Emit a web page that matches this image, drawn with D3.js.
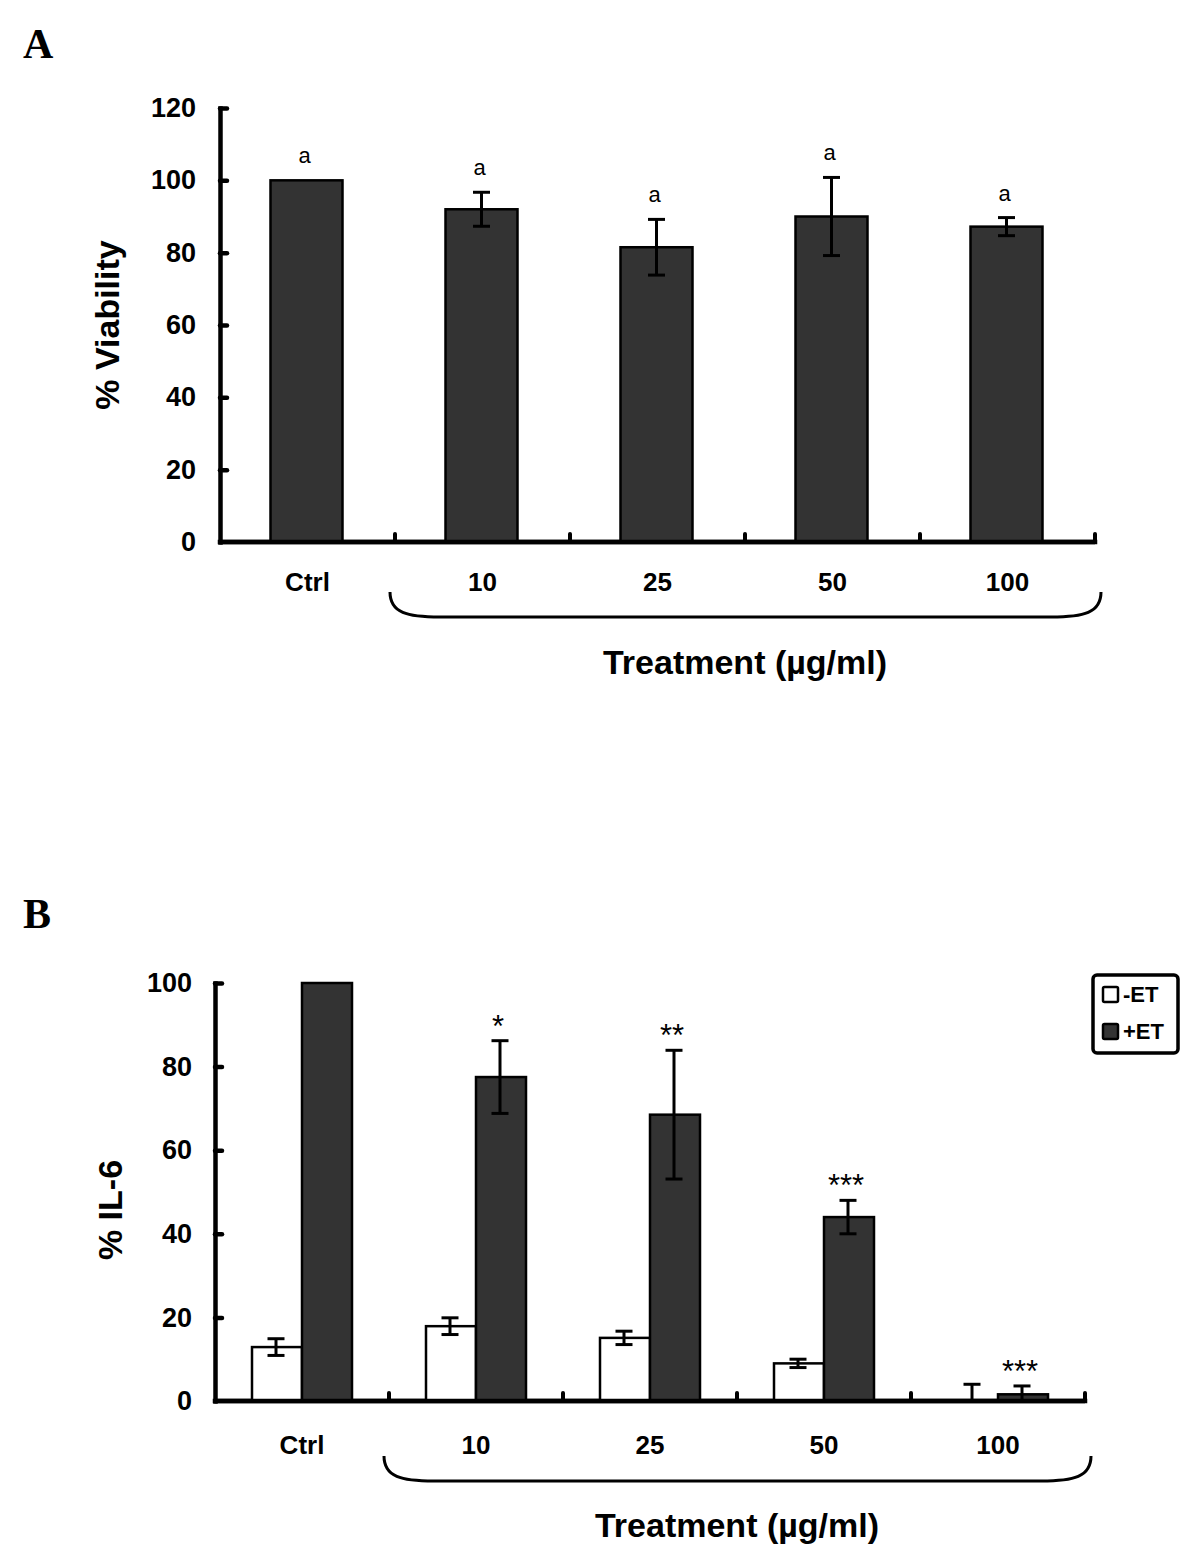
<!DOCTYPE html>
<html><head><meta charset="utf-8">
<script src="https://cdn.jsdelivr.net/npm/d3@7/dist/d3.min.js"></script>
<style>body{margin:0;background:#fff}svg{display:block}</style>
</head><body>
<script>
// ---- data ----
const categories = ["Ctrl","10","25","50","100"];
const viability = [100, 92.0, 81.5, 90.0, 87.2];
const viabilityErr = [0, 4.7, 7.7, 10.8, 2.5];
const viabilityLetters = ["a","a","a","a","a"];
const viabilityTicks = [0,20,40,60,80,100,120];

const seriesNames = ["-ET","+ET"];
const il6Minus = [12.9, 17.9, 15.1, 9.0, 0];
const il6MinusErr = [2.0, 2.0, 1.6, 1.0, 4.0];
const il6Plus = [100, 77.5, 68.5, 44.0, 1.6];
const il6PlusErr = [0, 8.7, 15.4, 4.0, 2.0];
const il6Stars = ["", "*", "**", "***", "***"];
const il6Ticks = [0,20,40,60,80,100];

const FONT = "'Liberation Sans', Arial, sans-serif";
const svg = d3.select("body").append("svg").attr("width",1200).attr("height",1568);
const BAR = "#333333";

function panel(opts){
  const g = svg.append("g");
  const {x, y, ticks, labelPad, title, titleY, axisTitle, axisTitleX, axisTitleY, letter, letterY} = opts;
  g.append("text").attr("x",23).attr("y",letterY).text(letter)
    .style("font-family","'Liberation Serif', 'Times New Roman', serif").style("font-weight","700").style("font-size","42px");
  const ya = g.append("g").attr("transform",`translate(${x.range()[0]},0)`)
    .call(d3.axisLeft(y).tickValues(ticks).tickSizeInner(-7).tickSizeOuter(0).tickPadding(labelPad));
  ya.select(".domain").attr("stroke","#000").attr("stroke-width",4.5).attr("stroke-linecap","square");
  ya.selectAll(".tick line").attr("stroke","#000").attr("stroke-width",4.5).attr("stroke-linecap","round")
    .attr("display",d=>d===0?"none":null);
  ya.selectAll(".tick text").style("font-family",FONT).style("font-weight","700").style("font-size","27px").attr("fill","#000");
  const y0 = y(0);
  g.append("line").attr("x1",x.range()[0]).attr("x2",x.range()[1]).attr("y1",y0).attr("y2",y0)
    .attr("stroke","#000").attr("stroke-width",4.5).attr("stroke-linecap","square");
  const bounds = categories.slice(1).map(c=>x(c)).concat([x.range()[1]]);
  g.selectAll(".xt").data(bounds).join("line").attr("x1",d=>d).attr("x2",d=>d)
    .attr("y1",y0).attr("y2",y0-8).attr("stroke","#000").attr("stroke-width",4).attr("stroke-linecap","round");
  const xa = g.append("g").attr("transform",`translate(0,${y0})`).call(d3.axisBottom(x).tickSize(0).tickPadding(opts.catPad));
  xa.select(".domain").remove();
  xa.selectAll(".tick text").style("font-family",FONT).style("font-weight","700").style("font-size","26px").attr("fill","#000");
  const bx0 = x(categories[1]) - 5, bx1 = x.range()[1] + 6;
  const bt = opts.braceTop, bb = opts.braceTop + 25, rx = 50;
  g.append("path").attr("d",`M${bx0},${bt} C${bx0},${bb-4} ${bx0+rx*0.35},${bb} ${bx0+rx},${bb} L${bx1-rx},${bb} C${bx1-rx*0.35},${bb} ${bx1},${bb-4} ${bx1},${bt}`)
    .attr("fill","none").attr("stroke","#000").attr("stroke-width",3);
  g.append("text").attr("x",(x(categories[1])+x.range()[1])/2).attr("y",titleY).attr("text-anchor","middle")
    .text(title).style("font-family",FONT).style("font-weight","700").style("font-size","34px");
  g.append("text").attr("transform",`translate(${axisTitleX},${axisTitleY}) rotate(-90)`).attr("text-anchor","middle")
    .text(axisTitle).style("font-family",FONT).style("font-weight","700").style("font-size","34px");
  return g;
}

function errBar(g, cx, y, v, e){
  if(!e) return;
  const lo = Math.max(0, v - e), hi = v + e;
  g.append("line").attr("x1",cx).attr("x2",cx).attr("y1",y(lo)).attr("y2",y(hi)).attr("stroke","#000").attr("stroke-width",3);
  g.append("line").attr("x1",cx-8.5).attr("x2",cx+8.5).attr("y1",y(hi)).attr("y2",y(hi)).attr("stroke","#000").attr("stroke-width",3);
  if(v - e >= 0) g.append("line").attr("x1",cx-8.5).attr("x2",cx+8.5).attr("y1",y(lo)).attr("y2",y(lo)).attr("stroke","#000").attr("stroke-width",3);
}

// ---- Panel A ----
const xA = d3.scaleBand().domain(categories).range([220,1095]);
const yA = d3.scaleLinear().domain([0,120]).range([542,108]);
const gA = panel({x:xA, y:yA, ticks:viabilityTicks, labelPad:24, title:"Treatment (\u00b5g/ml)", titleY:674,
  axisTitle:"% Viability", axisTitleX:119, axisTitleY:325, letter:"A", letterY:58, catPad:31, braceTop:592});
const bwA = 72;
categories.forEach((c,i)=>{
  const cx = xA(c) + xA.bandwidth()/2 - 1;
  gA.append("rect").attr("x",cx-bwA/2).attr("y",yA(viability[i])).attr("width",bwA).attr("height",yA(0)-yA(viability[i]))
    .attr("fill",BAR).attr("stroke","#000").attr("stroke-width",2.5);
  errBar(gA, cx, yA, viability[i], viabilityErr[i]);
  gA.append("text").attr("x",cx-2).attr("y",yA(viability[i]+viabilityErr[i])-17).attr("text-anchor","middle")
    .text(viabilityLetters[i]).style("font-family",FONT).style("font-size","22px");
});
gA.append("line").attr("x1",220).attr("x2",1095).attr("y1",yA(0)).attr("y2",yA(0)).attr("stroke","#000").attr("stroke-width",4.5);

// ---- Panel B ----
const xB = d3.scaleBand().domain(categories).range([215,1085]);
const yB = d3.scaleLinear().domain([0,100]).range([1401,983]);
const gB = panel({x:xB, y:yB, ticks:il6Ticks, labelPad:23, title:"Treatment (\u00b5g/ml)", titleY:1537,
  axisTitle:"% IL-6", axisTitleX:122, axisTitleY:1210, letter:"B", letterY:928, catPad:35, braceTop:1456});
const xSub = d3.scaleBand().domain(seriesNames).range([-50,50]);
const seriesVals = [il6Minus, il6Plus], seriesErr = [il6MinusErr, il6PlusErr], seriesFill = ["#fff", BAR];
categories.forEach((c,i)=>{
  const cc = xB(c) + xB.bandwidth()/2;
  seriesNames.forEach((s,k)=>{
    const v = seriesVals[k][i];
    const bx = cc + xSub(s);
    if(v>0) gB.append("rect").attr("x",bx).attr("y",yB(v)).attr("width",xSub.bandwidth()).attr("height",yB(0)-yB(v))
      .attr("fill",seriesFill[k]).attr("stroke","#000").attr("stroke-width",2.5);
    errBar(gB, bx + xSub.bandwidth()/2 - 1, yB, v, seriesErr[k][i]);
  });
  if(il6Stars[i]){
    const px = cc + xSub("+ET") + xSub.bandwidth()/2;
    gB.append("text").attr("x",px-3).attr("y",yB(il6Plus[i]+il6PlusErr[i])-4).attr("text-anchor","middle")
      .text(il6Stars[i]).style("font-family",FONT).style("font-size","31px");
  }
});
gB.append("line").attr("x1",215).attr("x2",1085).attr("y1",yB(0)).attr("y2",yB(0)).attr("stroke","#000").attr("stroke-width",4.5);

// legend
const lg = svg.append("g").attr("transform","translate(1093,975)");
lg.append("rect").attr("width",85).attr("height",78).attr("rx",4).attr("fill","#fff").attr("stroke","#000").attr("stroke-width",3.5);
seriesNames.forEach((s,k)=>{
  const yy = 12 + k*37;
  lg.append("rect").attr("x",10).attr("y",yy).attr("width",15).attr("height",15).attr("rx",1.5)
    .attr("fill",seriesFill[k]).attr("stroke","#000").attr("stroke-width",2.5);
  lg.append("text").attr("x",30).attr("y",yy+15).text(s).style("font-family",FONT).style("font-weight","700").style("font-size","22px");
});
</script>
</body></html>
